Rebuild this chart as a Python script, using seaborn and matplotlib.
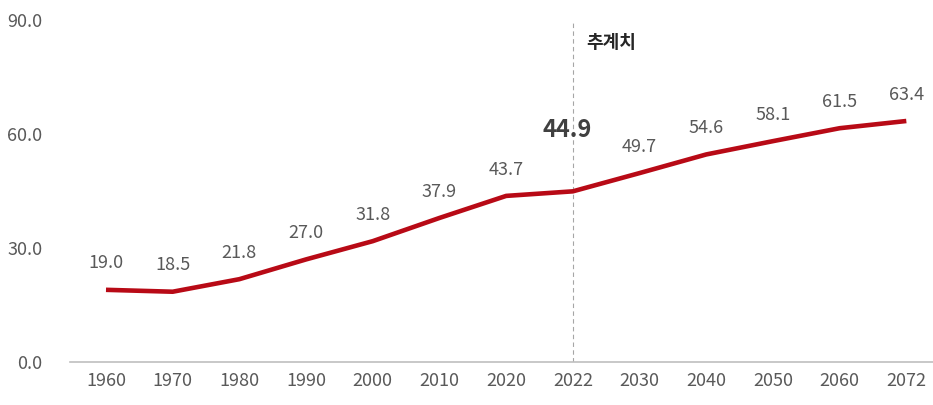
import matplotlib
matplotlib.use("Agg")
import matplotlib.pyplot as plt
import seaborn as sns
import pandas as pd

years = ["1960", "1970", "1980", "1990", "2000", "2010", "2020",
         "2022", "2030", "2040", "2050", "2060", "2072"]
median_age = [19.0, 18.5, 21.8, 27.0, 31.8, 37.9, 43.7,
              44.9, 49.7, 54.6, 58.1, 61.5, 63.4]
y_ticks = [0, 30, 60, 90]
highlight_year = "2022"
projection_label = "추계치"

sns.set_theme(style="white")
plt.rcParams["font.family"] = ["Noto Sans CJK KR", "DejaVu Sans"]

df = pd.DataFrame({"pos": range(len(years)), "year": years, "value": median_age})

fig = plt.figure(figsize=(9.33, 4.05), dpi=100)
ax = fig.add_axes([0.075, 0.106, 0.925, 0.845])

line_color = "#B80A16"
text_color = "#595959"
num_size = 13

sns.lineplot(data=df, x="pos", y="value", ax=ax, color=line_color,
             linewidth=3.3, solid_capstyle="butt", legend=False)

hi = years.index(highlight_year)
ax.axvline(hi, color="#A6A6A6", linestyle=(0, (4, 3)), linewidth=0.8,
           ymin=0, ymax=1, zorder=0)
ax.text(hi + 0.2, 84.0, projection_label, fontsize=13, fontweight="bold",
        color="#262626", ha="left", va="center")

for i, (p, v) in enumerate(zip(df["pos"], df["value"])):
    if i == hi:
        ax.annotate(f"{v:.1f}", (p, v), xytext=(-4, 44), textcoords="offset points",
                    ha="center", va="center", fontsize=17, fontweight="bold",
                    color="#404040")
    else:
        ax.annotate(f"{v:.1f}", (p, v), xytext=(0, 19), textcoords="offset points",
                    ha="center", va="center", fontsize=num_size,
                    color=text_color)

ax.set_xlim(-0.54, 12.4)
ax.set_ylim(0, 90)
ax.set_xticks(list(df["pos"]))
ax.set_xticklabels(years)
ax.set_yticks(y_ticks)
ax.set_yticklabels([f"{t:.1f}" for t in y_ticks])
ax.tick_params(axis="both", colors=text_color, labelsize=num_size, length=0)
ax.tick_params(axis="y", pad=20)
ax.tick_params(axis="x", pad=7)
ax.set_xlabel("")
ax.set_ylabel("")

for side in ["top", "right", "left"]:
    ax.spines[side].set_visible(False)
ax.spines["bottom"].set_color("#BFBFBF")
ax.spines["bottom"].set_linewidth(1.2)
ax.grid(False)

fig.savefig("out.png", dpi=100)
